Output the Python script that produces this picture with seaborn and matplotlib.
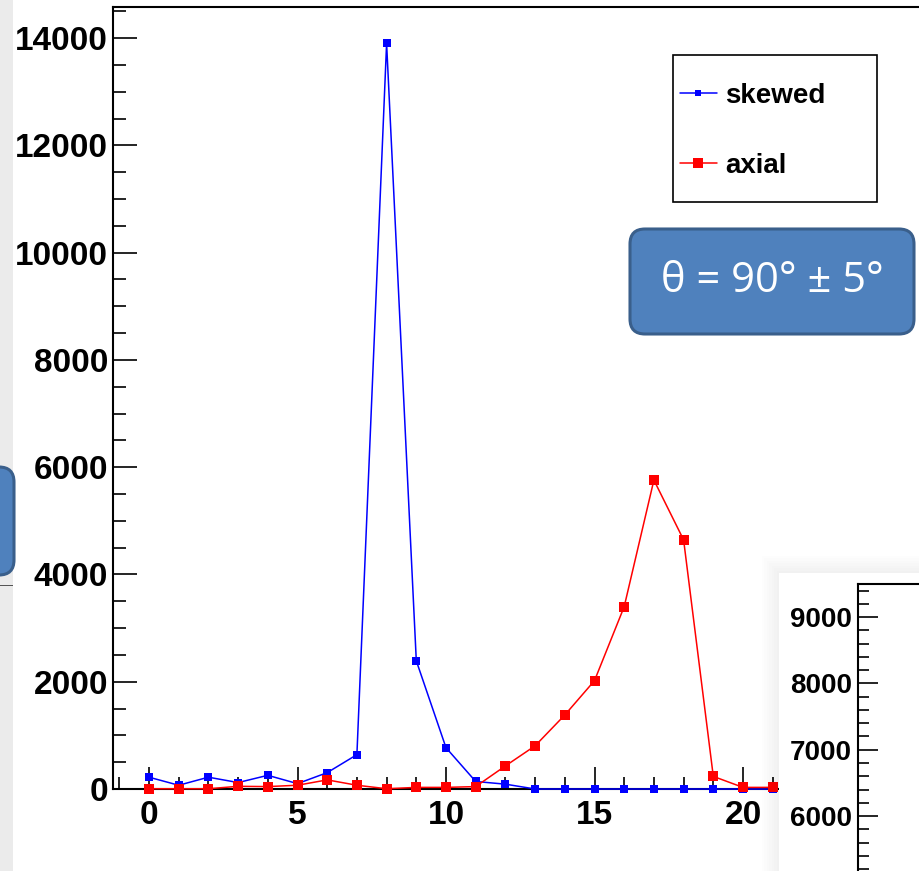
import numpy as np
import pandas as pd
import matplotlib
matplotlib.use("Agg")
import matplotlib.pyplot as plt
from matplotlib.patches import FancyBboxPatch, Rectangle
from matplotlib.lines import Line2D
from matplotlib.ticker import MultipleLocator, NullLocator
import seaborn as sns

# ---- data -------------------------------------------------------------
bins = list(range(22))
skewed = [220, 70, 220, 120, 255, 100, 305, 640, 13900, 2390, 770, 140,
          90, 0, 0, 0, 0, 0, 0, 0, 0, 0]
axial = [5, 5, 5, 50, 45, 70, 170, 70, 5, 30, 30, 45,
         430, 805, 1380, 2020, 3400, 5760, 4645, 235, 30, 30]
series_names = ["skewed", "axial"]
series_colors = ["#0000ff", "#ff0000"]
x_ticks = [0, 5, 10, 15, 20]
y_ticks = [0, 2000, 4000, 6000, 8000, 10000, 12000, 14000]
inset_ticks = [6000, 7000, 8000, 9000]
annotation = "\u03b8 = 90\u00b0 \u00b1 5\u00b0"

# ---- figure setup -----------------------------------------------------
sns.set_style("white")
plt.rcParams["font.family"] = ["Liberation Sans", "DejaVu Sans"]
plt.rcParams["font.weight"] = "bold"
plt.rcParams["text.color"] = "black"
plt.rcParams["xtick.color"] = "black"
plt.rcParams["ytick.color"] = "black"
plt.rcParams["xtick.labelcolor"] = "black"
plt.rcParams["ytick.labelcolor"] = "black"

W, H = 919, 871
fig = plt.figure(figsize=(W / 100, H / 100), dpi=100)
fig.patch.set_facecolor("white")


def fx(px):
    return px / W


def fy(py):
    return 1 - py / H


def inch(px, py):
    return px / 100, (H - py) / 100


# ---- main histogram panel ---------------------------------------------
ax = fig.add_axes([fx(113), fy(789), fx(960) - fx(113), fy(7) - fy(789)])
ax.set_facecolor("white")

df = pd.DataFrame({
    "bin": bins * 2,
    "count": skewed + axial,
    "series": ["skewed"] * len(bins) + ["axial"] * len(bins),
})

msizes = {"skewed": 5.8, "axial": 7.2}
for name, col in zip(series_names, series_colors):
    sns.lineplot(data=df[df["series"] == name], x="bin", y="count",
                 color=col, marker="s", markersize=msizes[name],
                 markeredgewidth=0, linewidth=1.1, ax=ax, clip_on=False,
                 legend=False, errorbar=None, zorder=3)

ax.set_xlim(-36 / 29.7, (960 - 149) / 29.7)
ax.set_ylim(0, 14580)
ax.xaxis.set_major_locator(MultipleLocator(5))
ax.xaxis.set_minor_locator(MultipleLocator(1))
ax.yaxis.set_major_locator(MultipleLocator(2000))
ax.yaxis.set_minor_locator(MultipleLocator(500))
ax.set_xticks(x_ticks)
ax.set_xticklabels([str(v) for v in x_ticks])
ax.set_yticks(y_ticks)
ax.set_yticklabels([str(v) for v in y_ticks])
ax.set_xlabel("")
ax.set_ylabel("")

ax.tick_params(axis="x", which="major", direction="in", length=16, width=1.2,
               pad=8, labelsize=24, top=False, bottom=True,
               colors="black")
ax.tick_params(axis="x", which="minor", direction="in", length=9, width=1.2,
               top=False, bottom=True, colors="black")
ax.tick_params(axis="y", which="major", direction="in", length=17, width=1.2,
               pad=3.6, labelsize=24, left=True, right=False,
               colors="black")
ax.tick_params(axis="y", which="minor", direction="in", length=9.5, width=1.2,
               left=True, right=False, colors="black")
for lab in ax.get_xticklabels() + ax.get_yticklabels():
    lab.set_fontweight("bold")

for side in ["left", "top", "bottom"]:
    ax.spines[side].set_visible(True)
    ax.spines[side].set_color("black")
    ax.spines[side].set_linewidth(1.5)
ax.spines["right"].set_visible(False)

# legend
handles = [
    Line2D([0], [0], color=series_colors[0], marker="s", markersize=5,
           markeredgewidth=0, linewidth=1.1),
    Line2D([0], [0], color=series_colors[1], marker="s", markersize=7,
           markeredgewidth=0, linewidth=1.1),
]
leg = ax.legend(handles, series_names, loc="center left", frameon=False,
                bbox_to_anchor=(fx(680), fy(131)),
                bbox_transform=fig.transFigure,
                prop={"family": "Liberation Sans", "weight": "bold",
                      "size": 20},
                handlelength=1.33, handletextpad=0.3, labelspacing=1.6,
                borderpad=0, borderaxespad=0)
for t in leg.get_texts():
    t.set_color("black")
fig.add_artist(Rectangle(inch(673, 202), 2.04, 1.47,
                         transform=fig.dpi_scale_trans, facecolor="none",
                         edgecolor="black", linewidth=1.2, zorder=2))

# ---- slide decorations --------------------------------------------------
box_face = "#4f81bd"
box_edge = "#3a5f8b"

fig.add_artist(Rectangle((0, 0), 0.13, H / 100, transform=fig.dpi_scale_trans,
                         facecolor="#ebebeb", edgecolor="none", zorder=1))
fig.add_artist(Rectangle(inch(0, 586), 0.13, 0.015,
                         transform=fig.dpi_scale_trans,
                         facecolor="#555555", edgecolor="none", zorder=1))

left_box = FancyBboxPatch(inch(-30, 575), 0.44, 1.08,
                          boxstyle="round,pad=0,rounding_size=0.15",
                          transform=fig.dpi_scale_trans, facecolor=box_face,
                          edgecolor=box_edge, linewidth=2.2, zorder=2)
fig.add_artist(left_box)

theta_box = FancyBboxPatch(inch(630, 334), 2.84, 1.05,
                           boxstyle="round,pad=0,rounding_size=0.15",
                           transform=fig.dpi_scale_trans, facecolor=box_face,
                           edgecolor=box_edge, linewidth=2.2, zorder=2)
fig.add_artist(theta_box)
fig.text(fx(772), fy(281), annotation, ha="center", va="center",
         color="white", fontsize=30, fontweight="normal",
         family=["Open Sans", "DejaVu Sans"], zorder=3)

# ---- neighbouring panel in the lower right ------------------------------
for i in range(8):
    fig.add_artist(Rectangle(inch(779 - 2.5 * i, H), (W - 779 + 2.5 * i) / 100,
                             (H - 573 + 2.5 * i) / 100,
                             transform=fig.dpi_scale_trans,
                             facecolor="black", edgecolor="none",
                             alpha=0.008, zorder=2))
fig.add_artist(Rectangle(inch(779, H), (W - 779) / 100, (H - 573) / 100,
                         transform=fig.dpi_scale_trans, facecolor="white",
                         edgecolor="none", zorder=2))

ax2 = fig.add_axes([fx(858), 0, fx(1000) - fx(858), fy(584)])
ax2.set_zorder(3)
ax2.patch.set_visible(False)
ax2.set_ylim(6000 - (871 - 816) / 66.33 * 1000, 9500)
ax2.set_xlim(0, 1)
ax2.yaxis.set_major_locator(MultipleLocator(1000))
ax2.yaxis.set_minor_locator(MultipleLocator(200))
ax2.set_yticks(inset_ticks)
ax2.set_yticklabels([str(v) for v in inset_ticks])
ax2.xaxis.set_major_locator(NullLocator())
ax2.tick_params(axis="y", which="major", direction="in", length=14.4,
                width=1.2, pad=4.3, labelsize=20, left=True, right=False,
                colors="black")
ax2.tick_params(axis="y", which="minor", direction="in", length=8, width=1.2,
                left=True, right=False, colors="black")
for lab in ax2.get_yticklabels():
    lab.set_fontweight("bold")
for side in ["left", "top"]:
    ax2.spines[side].set_visible(True)
    ax2.spines[side].set_color("black")
    ax2.spines[side].set_linewidth(1.5)
for side in ["right", "bottom"]:
    ax2.spines[side].set_visible(False)

fig.savefig("out.png", dpi=100, facecolor="white")
